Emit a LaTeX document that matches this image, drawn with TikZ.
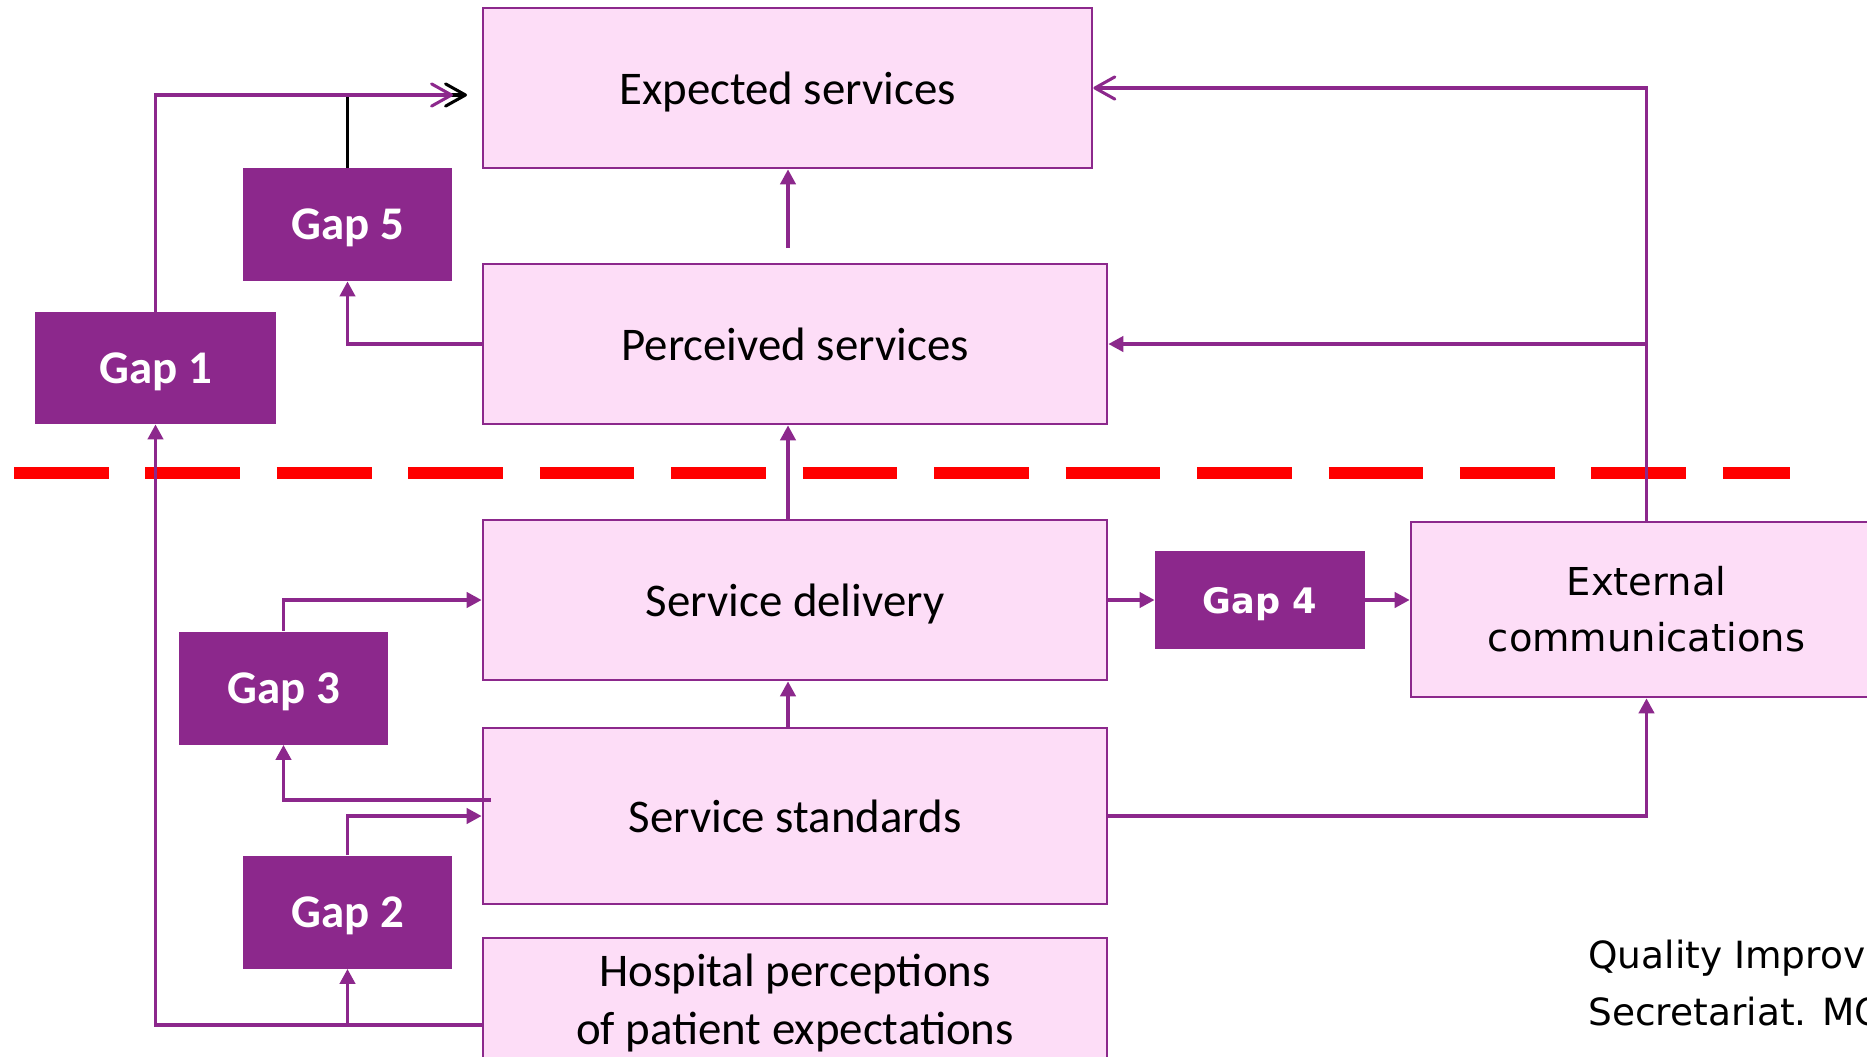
\documentclass[tikz,border=0pt]{standalone}
\usepackage{fontspec}
\setmainfont{Carlito}
\newfontfamily\verdfont{DejaVu Sans}
\usepackage{tikz}
\usetikzlibrary{arrows.meta}
\definecolor{gappurple}{RGB}{140,40,140}
\definecolor{boxpink}{RGB}{253,221,247}
\tikzset{
	stage/.style={draw=gappurple, line width=1.2pt, fill=boxpink, inner sep=0pt, align=center, font=\fontsize{20}{24.7}\selectfont},
	gapbox/.style={fill=gappurple, text=white, inner sep=0pt, text depth=0pt, minimum width=3.135cm, minimum height=1.695cm, font=\fontsize{20}{24}\selectfont\bfseries},
	link/.style={draw=gappurple, line width=1.3pt, -{Triangle[length=6.4pt,width=6.6pt]}},
	barb/.style={-{Straight Barb[length=8.5pt,width=9.5pt,round]}}
}

\begin{document}
\begin{tikzpicture}[x=0.015cm, y=-0.015cm]
				\useasboundingbox (0,0) rectangle (1867,1056);
				% boxes
				\node [stage, text depth=0pt, minimum width=9.135cm, minimum height=2.4cm] (exp) at (787.5,88) {Expected services};
				\node [stage, minimum width=9.36cm, minimum height=2.4cm] (perc) at (795,344) {Perceived services};
				\node [stage, text depth=0pt, minimum width=9.36cm, minimum height=2.4cm] (deliv) at (795,600) {Service delivery};
				\node [stage, minimum width=9.36cm, minimum height=2.64cm] (stand) at (795,816) {Service standards};
				\node [stage, minimum width=9.36cm, minimum height=1.95cm] (hosp) at (795,1003) {Hospital perceptions\\of patient expectations};
				\node [stage, minimum width=7.065cm, minimum height=2.625cm, font=\verdfont\fontsize{16.4}{23.8}\selectfont] (ext) at (1646.5,609.5) {External\\communications};
				% gaps
				\node [gapbox, minimum width=3.615cm, minimum height=1.68cm] (gap1) at (155.5,368) {Gap 1};
				\node [gapbox] (gap5) at (347.5,224.5) {Gap 5};
				\node [gapbox] (gap3) at (283.5,688) {Gap 3};
				\node [gapbox] (gap2) at (347.5,912) {Gap 2};
				\node [gapbox, minimum width=3.15cm, minimum height=1.47cm, font=\verdfont\fontsize{15}{18}\selectfont\bfseries] (gap4) at (1260,600) {Gap 4};
				\node [anchor=north west, align=left, inner sep=0pt, font=\verdfont\fontsize{16}{24.2}\selectfont] (credit) at (1588,940) {Quality Improvement\\Secretariat. MOH};
				% boundary
				\draw [red, line width=5.1pt, dash pattern=on 40.4pt off 15.7pt] (14,473) -- (1790,473);
				% links
				\coordinate (tipA) at (453,95);
				\coordinate (tipB) at (467,95);
				\coordinate (stub) at (788,248);
				\coordinate (stdout) at (491,800);
				\coordinate (hospout) at (483,1025);
				\draw [black, line width=1.3pt, barb] (gap5.north) |- (tipB);
				\draw [link, barb] (gap1.north) |- (tipA);
				\draw [link] (stub) -- (stub |- exp.south);
				\draw [link] (perc.west) -| (gap5.south);
				\draw [link, barb] (ext.north) |- (exp.east);
				\draw [link] (ext.north |- perc.east) -- (perc.east);
				\draw [link] (stub |- deliv.north) -- (stub |- perc.south);
				\draw [link] (deliv.east) -- (gap4.west);
				\draw [link] (gap4.east) -- (gap4.east -| ext.west);
				\draw [link] (stub |- stand.north) -- (stub |- deliv.south);
				\draw [link] (stand.east) -| (ext.south);
				\draw [link] (gap3.north) |- (deliv.west);
				\draw [link] (stdout) -| (gap3.south);
				\draw [link] (gap2.north) |- (stand.west);
				\draw [link] (hospout) -| (gap1.south);
				\draw [link] (gap2.south |- hospout) -- (gap2.south);
			\end{tikzpicture}
\end{document}
